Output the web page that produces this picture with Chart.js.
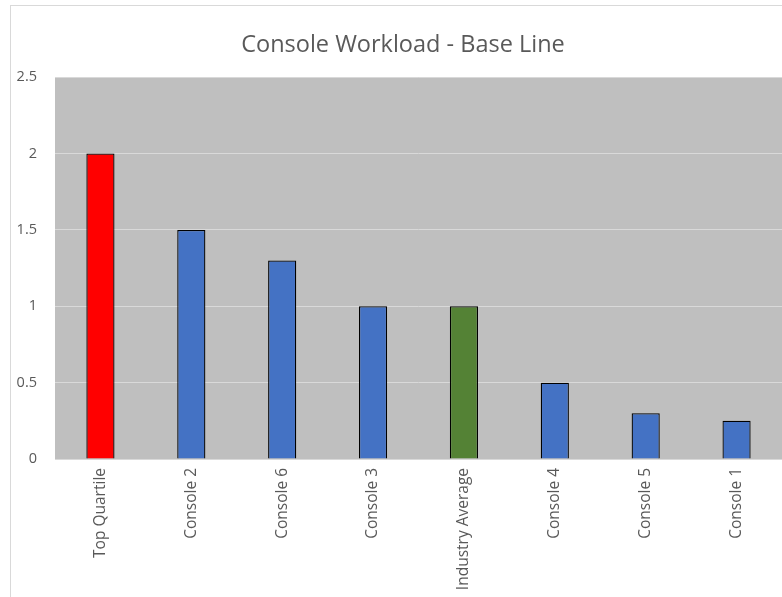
<!DOCTYPE html>
<html>
<head>
<meta charset="utf-8">
<script src="https://cdn.jsdelivr.net/npm/chart.js@4"></script>
<style>
  html, body { margin: 0; padding: 0; background: #fff; overflow: hidden; width: 782px; height: 597px; }
  #frame { position: absolute; left: 10px; top: 5px; width: 900px; height: 700px; border: 1px solid #d9d9d9; }
  canvas { position: absolute; left: 0; top: 0; }
</style>
</head>
<body>
<div id="frame"></div>
<canvas id="c" width="800" height="597"></canvas>
<script>
// 数据
const categories = ['Top Quartile', 'Console 2', 'Console 6', 'Console 3', 'Industry Average', 'Console 4', 'Console 5', 'Console 1'];
const workload = [2, 1.5, 1.3, 1, 1, 0.5, 0.3, 0.25];
const barColors = ['#ff0000', '#4472c4', '#4472c4', '#4472c4', '#548235', '#4472c4', '#4472c4', '#4472c4'];

// 绘图区灰色背景
const plotBg = {
  id: 'plotBg',
  afterLayout(chart) {
    // y 轴标签不要被裁掉
    chart.scales.y.left = 0;
  },
  beforeDraw(chart) {
    const a = chart.chartArea;
    const ctx = chart.ctx;
    ctx.save();
    ctx.fillStyle = '#bfbfbf';
    ctx.fillRect(a.left, a.top, a.right - a.left, a.bottom - a.top);
    ctx.restore();
  }
};

const ctx = document.getElementById('c').getContext('2d');
new Chart(ctx, {
  type: 'bar',
  data: {
    labels: categories,
    datasets: [{
      label: 'Workload',
      data: workload,
      backgroundColor: barColors,
      borderColor: '#000000',
      borderWidth: 1.3,
      categoryPercentage: 1,
      barPercentage: 0.31
    }]
  },
  options: {
    responsive: false,
    animation: false,
    layout: { padding: { left: 24, right: 18, top: 31, bottom: 0 } },
    plugins: {
      legend: { display: false },
      tooltip: { enabled: false },
      title: {
        display: true,
        text: 'Console Workload - Base Line',
        color: '#595959',
        font: { family: 'Open Sans', size: 23.5, weight: 'normal' },
        padding: { top: 0, bottom: 18 }
      }
    },
    scales: {
      x: {
        grid: { display: false, drawTicks: false },
        border: { color: '#d9d9d9' },
        ticks: {
          color: '#595959',
          font: { family: 'Open Sans', size: 15.5 },
          minRotation: 90,
          maxRotation: 90,
          padding: 9
        },
        afterFit(scale) { scale.height = 138; }
      },
      y: {
        min: 0,
        max: 2.5,
        ticks: {
          stepSize: 0.5,
          color: '#595959',
          font: { family: 'Open Sans', size: 14.5 },
          padding: 18,
          callback: v => String(v)
        },
        grid: { color: '#d9d9d9', drawTicks: false },
        border: { display: false },
        afterFit(scale) { scale.width = 31; }
      }
    }
  },
  plugins: [plotBg]
});
</script>
</body>
</html>
